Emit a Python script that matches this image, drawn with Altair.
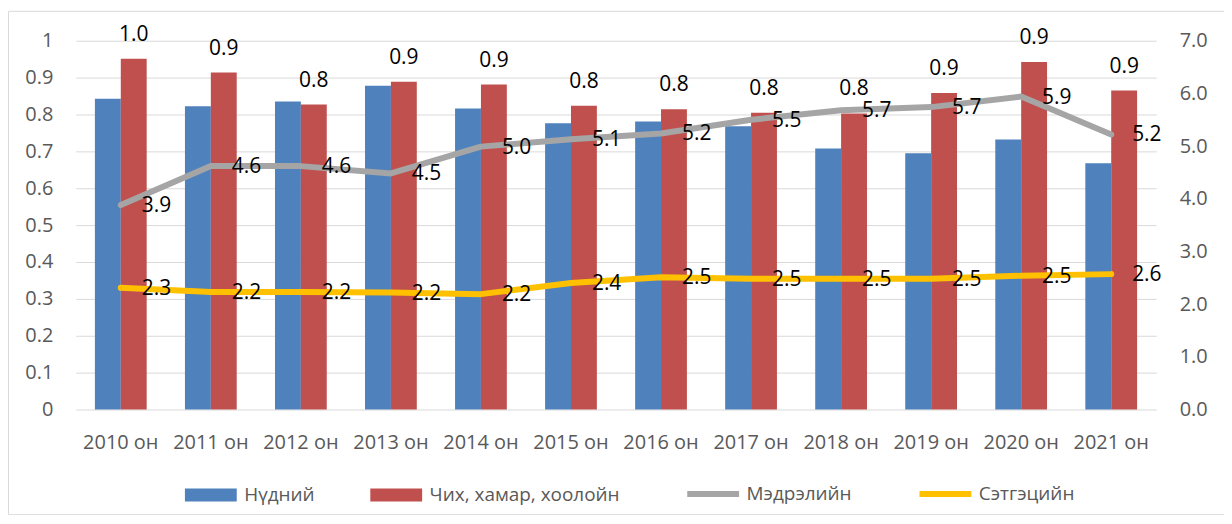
import altair as alt
import pandas as pd

years = ["2010 он", "2011 он", "2012 он", "2013 он", "2014 он", "2015 он",
         "2016 он", "2017 он", "2018 он", "2019 он", "2020 он", "2021 он"]
bar_series = ["Нүдний", "Чих, хамар, хоолойн"]
line_series = ["Мэдрэлийн", "Сэтгэцийн"]
all_series = bar_series + line_series

eye = [0.843, 0.822, 0.835, 0.878, 0.816, 0.776, 0.781, 0.768, 0.708, 0.695, 0.732, 0.668]
ent = [0.951, 0.914, 0.827, 0.889, 0.881, 0.824, 0.814, 0.805, 0.803, 0.858, 0.942, 0.865]
neuro = [3.88, 4.62, 4.62, 4.48, 4.99, 5.13, 5.24, 5.50, 5.68, 5.74, 5.94, 5.22]
mental = [2.31, 2.23, 2.23, 2.22, 2.19, 2.40, 2.51, 2.48, 2.48, 2.48, 2.54, 2.57]

colors = ["#4F81BD", "#C0504D", "#A5A5A5", "#FFC000"]
left_ticks = [0, 0.1, 0.2, 0.3, 0.4, 0.5, 0.6, 0.7, 0.8, 0.9, 1.0]
right_ticks = [0, 1, 2, 3, 4, 5, 6, 7]

bars_df = pd.DataFrame(
    [{"year": y, "series": bar_series[0], "value": v} for y, v in zip(years, eye)]
    + [{"year": y, "series": bar_series[1], "value": v} for y, v in zip(years, ent)]
)
lines_df = pd.DataFrame(
    [{"year": y, "series": line_series[0], "value": v} for y, v in zip(years, neuro)]
    + [{"year": y, "series": line_series[1], "value": v} for y, v in zip(years, mental)]
)

AX = "#595959"
FS = 20

x_enc = alt.X(
    "year:N", title=None,
    scale=alt.Scale(domain=years, range=[68, 1152], paddingInner=0.425, paddingOuter=0.2125),
    axis=alt.Axis(labelAngle=0, labelFontSize=FS, labelColor=AX, ticks=False, tickSize=0,
                  domain=False, grid=False, labelPadding=39, labelBaseline="alphabetic",
                  offset=-105, labelOverlap=False, labelFlush=False),
)
xoff_enc = alt.XOffset("series:N", scale=alt.Scale(domain=bar_series, paddingInner=0, paddingOuter=0))

y_left = alt.Y(
    "value:Q", title=None,
    scale=alt.Scale(domain=[0, 1], range=[400, 30], nice=False),
    axis=alt.Axis(values=left_ticks, format=".1~f", grid=True, gridColor="#D9D9D9", gridWidth=1,
                  domain=False, ticks=False, tickSize=0, labelPadding=5, offset=-50,
                  labelFontSize=FS, labelColor=AX),
)
y_right = alt.Y(
    "value:Q", title=None,
    scale=alt.Scale(domain=[0, 7], range=[400, 30], nice=False),
    axis=alt.Axis(orient="right", values=right_ticks, format=".1f", grid=False, domain=False,
                  ticks=False, tickSize=0, labelPadding=5, offset=-50,
                  labelFontSize=FS, labelColor=AX),
)

is_line = "indexof(['Мэдрэлийн','Сэтгэцийн'], datum.value) >= 0"
legend = alt.Legend(
    title=None, orient="none", direction="horizontal", legendX=194, legendY=475,
    symbolSize=2704, labelFontSize=19, labelColor=AX, labelOffset=24, columnPadding=55,
    labelLimit=400, padding=0, symbolOpacity=1,
    symbolType={"expr": is_line + " ? 'stroke' : 'M-1,-0.25H1V0.25H-1Z'"},
    symbolFillColor={"expr": "scale('color', datum.value)"},
    symbolStrokeColor={"expr": "scale('color', datum.value)"},
    symbolStrokeWidth={"expr": is_line + " ? 6 : 0"},
)
color_enc = alt.Color("series:N", scale=alt.Scale(domain=all_series, range=colors), legend=legend)

bars = alt.Chart(bars_df).mark_bar(opacity=1).encode(
    x=x_enc, xOffset=xoff_enc, y=y_left, color=color_enc
)
bar_labels = alt.Chart(bars_df).transform_filter(
    alt.datum.series == bar_series[1]
).mark_text(baseline="alphabetic", dy=-18, fontSize=21, color="#000000").encode(
    x=x_enc, xOffset=xoff_enc, y=y_left, text=alt.Text("value:Q", format=".1f")
)

lines = alt.Chart(lines_df).mark_line(strokeWidth=6, strokeCap="round", strokeJoin="round").encode(
    x=x_enc, y=y_right, color=color_enc, detail="series:N"
)
line_labels = alt.Chart(lines_df).mark_text(
    align="left", baseline="middle", dx=21, dy=1, fontSize=21, color="#000000"
).encode(
    x=x_enc, y=y_right, text=alt.Text("value:Q", format=".1f")
)

chart = alt.layer(
    alt.layer(bars, bar_labels),
    alt.layer(lines, line_labels),
).resolve_scale(y="independent").properties(
    width=1220, height=505,
    padding={"left": 0, "top": 2, "right": 0, "bottom": 0},
).configure(font="Open Sans").configure_view(stroke="#D9D9D9", strokeWidth=1)

chart.save("out.html", embed_options={"renderer": "svg", "actions": False})
